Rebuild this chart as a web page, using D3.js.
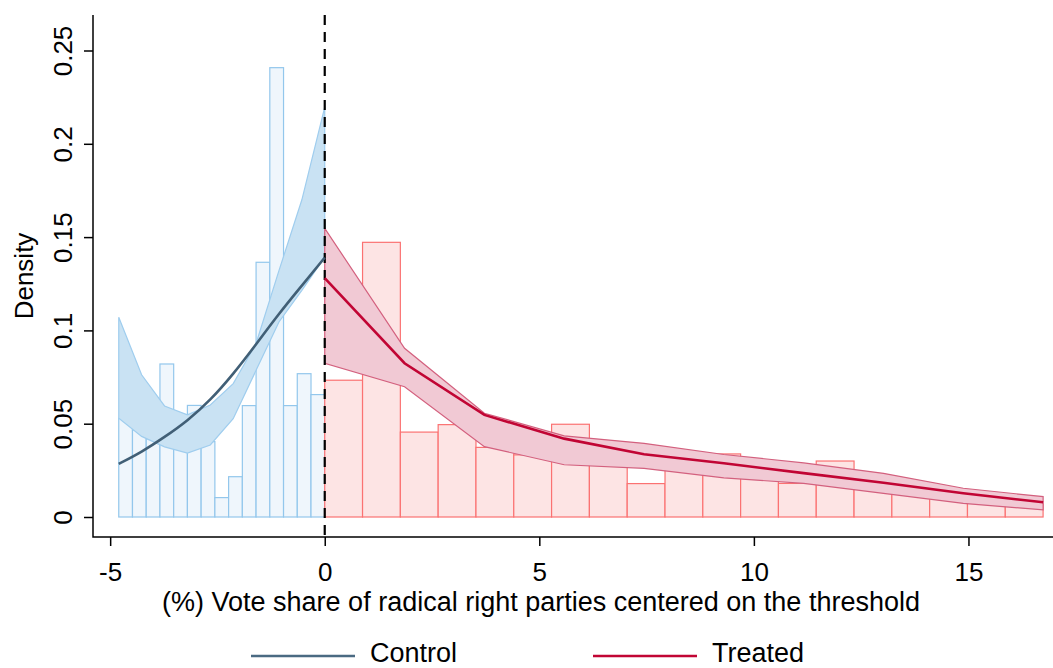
<!DOCTYPE html>
<html>
<head>
<meta charset="utf-8">
<script src="https://cdn.jsdelivr.net/npm/d3@7"></script>
<style>
  body { margin: 0; background: #fff; }
  svg text { font-family: "Liberation Sans", Arial, sans-serif; fill: #000; }
</style>
</head>
<body>
<div id="chart"></div>
<script>
// histogram bins (left edges) and densities
const controlEdges = [-4.8, -4.48, -4.16, -3.84, -3.52, -3.2, -2.88, -2.56, -2.24, -1.92, -1.6, -1.28, -0.96, -0.64, -0.32];
const controlWidth = 0.32;
const controlDensity = [0.0529, 0.0466, 0.042, 0.082, 0.045, 0.0598, 0.0404, 0.0104, 0.0216, 0.0597, 0.1365, 0.2408, 0.0597, 0.0768, 0.0656];

const treatedEdges = [0, 0.881, 1.762, 2.643, 3.524, 4.405, 5.286, 6.167, 7.048, 7.929, 8.81, 9.691, 10.572, 11.453, 12.334, 13.215, 14.096, 14.977, 15.858];
const treatedWidth = 0.881;
const treatedDensity = [0.0733, 0.1472, 0.0455, 0.0495, 0.0373, 0.0333, 0.0497, 0.030, 0.0179, 0.027, 0.0338, 0.022, 0.018, 0.030, 0.016, 0.013, 0.011, 0.009, 0.007];

// local density fit with CI
const controlX = [-4.8, -4.267, -3.733, -3.2, -2.667, -2.133, -1.6, -1.067, -0.533, 0];
const controlFit = [0.0285, 0.0348, 0.0428, 0.0515, 0.0625, 0.0765, 0.0925, 0.109, 0.124, 0.139];
const controlHi = [0.107, 0.0762, 0.0595, 0.0548, 0.060, 0.0715, 0.093, 0.132, 0.170, 0.2197];
const controlLo = [0.0529, 0.0432, 0.0376, 0.0342, 0.0386, 0.0527, 0.0786, 0.1045, 0.1215, 0.1393];

const treatedX = [0, 1.86, 3.72, 5.58, 7.44, 9.30, 11.16, 13.02, 14.88, 16.74];
const treatedFit = [0.128, 0.0824, 0.0547, 0.042, 0.0336, 0.0288, 0.0235, 0.0184, 0.0127, 0.0079];
const treatedHi = [0.1547, 0.0904, 0.0556, 0.0435, 0.0395, 0.0335, 0.029, 0.0234, 0.0154, 0.0109];
const treatedLo = [0.0824, 0.0698, 0.0377, 0.028, 0.0261, 0.021, 0.018, 0.0127, 0.0073, 0.0038];

const xTicks = [-5, 0, 5, 10, 15];
const yTicks = [0, 0.05, 0.1, 0.15, 0.2, 0.25];

const W = 1053, H = 668;
const plotLeft = 93, plotBottom = 537, plotTop = 15;

const svg = d3.select('#chart').append('svg')
    .attr('width', W)
    .attr('height', H);

const x = d3.scaleLinear().domain([-5.4, 16.97]).range([plotLeft, W]);
const y = d3.scaleLinear().domain([0, 0.25]).range([517, 50.5]);

// bars
const bars = (edges, vals, w, fill, stroke) => {
    svg.append('g')
        .selectAll('rect')
        .data(edges)
        .join('rect')
        .attr('x', d => x(d))
        .attr('width', d => x(d + w) - x(d))
        .attr('y', (d, i) => y(vals[i]))
        .attr('height', (d, i) => y(0) - y(vals[i]))
        .attr('fill', fill)
        .attr('stroke', stroke)
        .attr('stroke-width', 1.2);
};
bars(controlEdges, controlDensity, controlWidth, '#eff6fc', '#93c7ec');
bars(treatedEdges, treatedDensity, treatedWidth, '#fde4e4', '#fb7272');

// CI bands
const band = (xs, lo, hi, fill, stroke) => {
    const area = d3.area()
        .x((d, i) => x(xs[i]))
        .y0((d, i) => y(lo[i]))
        .y1((d, i) => y(hi[i]));
    svg.append('path')
        .attr('d', area(xs) + 'Z')
        .attr('fill', fill)
        .attr('stroke', stroke)
        .attr('stroke-width', 1.2);
};
band(controlX, controlLo, controlHi, '#c9e2f3', '#9fcdee');
band(treatedX, treatedLo, treatedHi, '#f1c9d4', '#d3607e');

// threshold
svg.append('line')
    .attr('x1', x(0)).attr('x2', x(0))
    .attr('y1', plotTop).attr('y2', plotBottom)
    .attr('stroke', '#000')
    .attr('stroke-width', 2.2)
    .attr('stroke-dasharray', '10,7');

// fitted lines
const fitLine = (xs, vals, color, curve) => {
    svg.append('path')
        .attr('d', d3.line().x((d, i) => x(xs[i])).y((d, i) => y(vals[i])).curve(curve)(xs))
        .attr('fill', 'none')
        .attr('stroke', color)
        .attr('stroke-width', 2.6);
};
fitLine(controlX, controlFit, '#415f76', d3.curveBasis);
fitLine(treatedX, treatedFit, '#c10534', d3.curveLinear);

// axes
const yAxis = svg.append('g')
    .attr('transform', `translate(${plotLeft},0)`)
    .call(d3.axisLeft(y).tickValues(yTicks).tickSize(9).tickFormat(d => String(d)));
yAxis.select('.domain').remove();
yAxis.selectAll('line').attr('stroke', '#000').attr('stroke-width', 1.5);
yAxis.selectAll('text')
    .attr('x', 0).attr('dy', 0).attr('y', 0)
    .attr('transform', 'translate(-21,0) rotate(-90)')
    .attr('text-anchor', 'middle')
    .style('font-size', '26px')
    .style('font-family', '"Liberation Sans", Arial, sans-serif');

const xAxis = svg.append('g')
    .attr('transform', `translate(0,${plotBottom})`)
    .call(d3.axisBottom(x).tickValues(xTicks).tickSize(9).tickFormat(d => String(d)));
xAxis.select('.domain').remove();
xAxis.selectAll('line').attr('stroke', '#000').attr('stroke-width', 1.5);
xAxis.selectAll('text')
    .attr('y', 0).attr('dy', 0)
    .attr('transform', 'translate(0,44)')
    .style('font-size', '26px')
    .style('font-family', '"Liberation Sans", Arial, sans-serif');

svg.append('path')
    .attr('d', `M${plotLeft},${plotTop}V${plotBottom}H${W}`)
    .attr('fill', 'none')
    .attr('stroke', '#000')
    .attr('stroke-width', 1.5);

// titles
svg.append('text')
    .attr('transform', 'translate(33,276) rotate(-90)')
    .attr('text-anchor', 'middle')
    .style('font-size', '26px')
    .text('Density');

svg.append('text')
    .attr('x', 541).attr('y', 611)
    .attr('text-anchor', 'middle')
    .style('font-size', '27px')
    .text('(%) Vote share of radical right parties centered on the threshold');

// legend
const legend = [
    {name: 'Control', color: '#4a6a82', x0: 251},
    {name: 'Treated', color: '#c10534', x0: 593}
];
const lg = svg.append('g').selectAll('g').data(legend).join('g');
lg.append('line')
    .attr('x1', d => d.x0).attr('x2', d => d.x0 + 104)
    .attr('y1', 656).attr('y2', 656)
    .attr('stroke', d => d.color)
    .attr('stroke-width', 2.6);
lg.append('text')
    .attr('x', d => d.x0 + 119)
    .attr('y', 662)
    .style('font-size', '27px')
    .text(d => d.name);
</script>
</body>
</html>
